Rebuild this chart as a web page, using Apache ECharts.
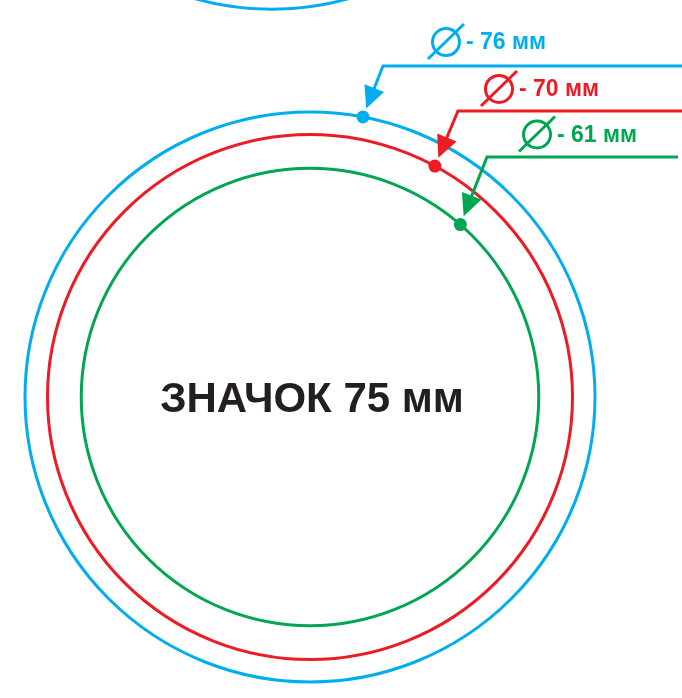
<!DOCTYPE html>
<html><head><meta charset="utf-8">
<script src="https://cdn.jsdelivr.net/npm/echarts@6/dist/echarts.min.js"></script>
<style>html,body{margin:0;padding:0;background:#fff}#c{width:682px;height:698px}</style>
</head><body><div id="c"></div>
<script>
// ---- data (mm) ----
const diameters = [76, 70, 61];
const ringLabels = ['- 76 мм', '- 70 мм', '- 61 мм'];
const titleText = 'ЗНАЧОК 75 мм';
const neighbourDiameter = 76;

// ---- annotation layout (mm, badge centre = 0,0) ----
const colors = ['#00aeef', '#ed1c24', '#00a651'];
const leaderAngle = [79.3, 61.6, 48.9];
const elbowPt = [[9.73, 44.13], [19.73, 38.13], [23.6, 32.0]];
const leaderEndX = [49.6, 49.6, 49.07];
const symbolPt = [[18.13, 47.33], [25.2, 41.07], [30.27, 35.0]];
const neighbourCentre = [-5.1, 89.7];
const titlePt = [0.27, -0.4];

const PX_PER_MM = 7.5, CX = 310, CY = 397, W = 682, H = 698;

const chart = echarts.init(document.getElementById('c'), null, {renderer: 'canvas'});

const ringData = diameters.map((d, i) => [0, 0, d / 2, i]);
ringData.push([neighbourCentre[0], neighbourCentre[1], neighbourDiameter / 2, 0]);

const leaderData = diameters.map((d, i) => [leaderAngle[i], elbowPt[i][0], elbowPt[i][1], leaderEndX[i], symbolPt[i][0], symbolPt[i][1], d / 2, i]);

const FONT = '"Liberation Sans", Arial, sans-serif';

chart.setOption({
  animation: false,
  backgroundColor: '#ffffff',
  grid: {left: 0, top: 0, width: W, height: H, containLabel: false},
  xAxis: {type: 'value', min: -CX / PX_PER_MM, max: (W - CX) / PX_PER_MM, show: false},
  yAxis: {type: 'value', min: -(H - CY) / PX_PER_MM, max: CY / PX_PER_MM, show: false},
  series: [
    {
      type: 'custom', name: 'rings', clip: false, silent: true,
      data: ringData,
      renderItem: function (params, api) {
        const c = api.coord([api.value(0), api.value(1)]);
        const r = api.size([api.value(2), 0])[0];
        return {type: 'circle', shape: {cx: c[0], cy: c[1], r: r},
          style: {fill: null, stroke: colors[api.value(3)], lineWidth: 3}};
      }
    },
    {
      type: 'custom', name: 'leaders', clip: false, silent: true,
      data: leaderData,
      renderItem: function (params, api) {
        const a = api.value(0) * Math.PI / 180;
        const r = api.value(6);
        const i = api.value(7);
        const col = colors[i];
        const dot = api.coord([r * Math.cos(a), r * Math.sin(a)]);
        const el = api.coord([api.value(1), api.value(2)]);
        const end = api.coord([api.value(3), api.value(2)]);
        const s = api.coord([api.value(4), api.value(5)]);
        let ux = dot[0] - el[0], uy = dot[1] - el[1];
        const L = Math.hypot(ux, uy); ux /= L; uy /= L;
        const tip = [dot[0] - ux * 9, dot[1] - uy * 9];
        const base = [tip[0] - ux * 22, tip[1] - uy * 22];
        const nx = -uy, ny = ux;
        return {type: 'group', children: [
          {type: 'polyline', shape: {points: [end, el, [base[0] + ux * 2, base[1] + uy * 2]]},
            style: {fill: null, stroke: col, lineWidth: 3, lineJoin: 'miter'}},
          {type: 'polygon', shape: {points: [tip, [base[0] + nx * 10.5, base[1] + ny * 10.5], [base[0] - nx * 10.5, base[1] - ny * 10.5]]},
            style: {fill: col}},
          {type: 'circle', shape: {cx: dot[0], cy: dot[1], r: 6.5}, style: {fill: col}},
          {type: 'circle', shape: {cx: s[0], cy: s[1], r: 13.5}, style: {fill: null, stroke: col, lineWidth: 3}},
          {type: 'line', shape: {x1: s[0] - 18, y1: s[1] + 17, x2: s[0] + 18, y2: s[1] - 18},
            style: {stroke: col, lineWidth: 3}},
          {type: 'text', style: {text: ringLabels[i], x: s[0] + 20, y: s[1] + 1,
            fill: col, font: 'bold 23px ' + FONT, align: 'left', verticalAlign: 'middle',
            textAlign: 'left', textVerticalAlign: 'middle'}}
        ]};
      }
    },
    {
      type: 'custom', name: 'title', clip: false, silent: true,
      data: [titlePt],
      renderItem: function (params, api) {
        const c = api.coord([api.value(0), api.value(1)]);
        return {type: 'text', style: {text: titleText, x: c[0], y: c[1],
          fill: '#231f20', font: 'bold 42px ' + FONT, align: 'center', verticalAlign: 'middle',
          textAlign: 'center', textVerticalAlign: 'middle'}};
      }
    }
  ]
});
</script>
</body></html>
